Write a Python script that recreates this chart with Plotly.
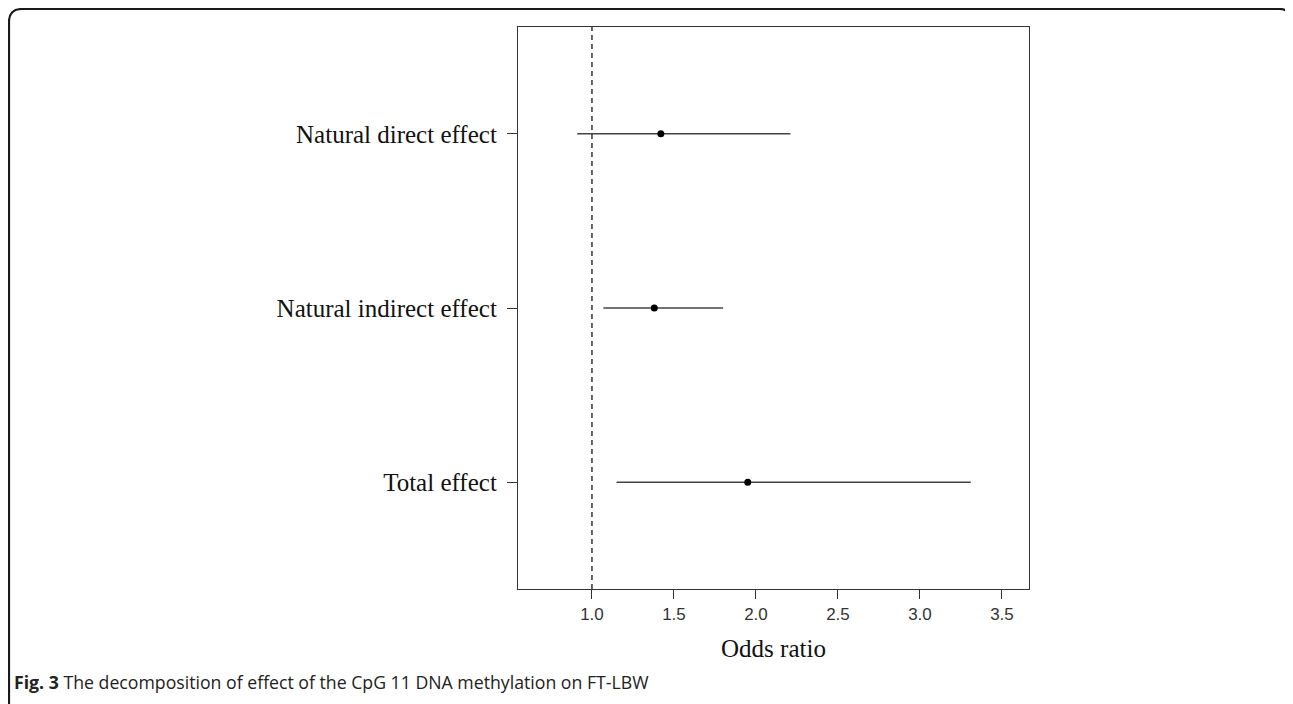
import plotly.graph_objects as go

# ---- data ----
effects = ["Total effect", "Natural indirect effect", "Natural direct effect"]
odds_ratio = [1.95, 1.38, 1.42]
ci_lower = [1.15, 1.07, 0.91]
ci_upper = [3.31, 1.80, 2.21]
x_ticks = [1.0, 1.5, 2.0, 2.5, 3.0, 3.5]
x_tick_labels = ["1.0", "1.5", "2.0", "2.5", "3.0", "3.5"]
reference_or = 1.0
caption_bold = "Fig. 3"
caption_text = " The decomposition of effect of the CpG 11 DNA methylation on FT-LBW"

OFF = 8  # browser body margin
W, H = 1293 - OFF, 704 - OFF
L, R, T, B = 518 - OFF, 1029 - OFF, 27 - OFF, 589 - OFF  # plot area pixels

def px(xp):
    return (xp - OFF - L) / (R - L)

def py(yp):
    return (B - (yp - OFF)) / (B - T)

ypos = list(range(1, len(effects) + 1))

fig = go.Figure()
fig.add_trace(go.Scatter(
    x=odds_ratio, y=ypos, mode="markers",
    marker=dict(color="black", size=7),
    error_x=dict(type="data", symmetric=False,
                 array=[u - p for u, p in zip(ci_upper, odds_ratio)],
                 arrayminus=[p - l for p, l in zip(odds_ratio, ci_lower)],
                 width=0, thickness=1.5, color="#444444"),
    showlegend=False, hoverinfo="x+y",
))

fig.add_shape(type="line", xref="x", yref="paper", x0=reference_or, x1=reference_or,
              y0=0, y1=1, line=dict(color="#333333", width=1.5, dash="5px,4px"))

# outer rounded frame
x0, y0, x1, y1 = px(9), py(9), px(1292), py(712)
rx = 13 / (R - L)
ry = 13 / (B - T)
path = (f"M {x0},{y1} L {x0},{y0 - ry} Q {x0},{y0} {x0 + rx},{y0} "
        f"L {x1 - rx},{y0} Q {x1},{y0} {x1},{y0 - ry} L {x1},{y1}")
fig.add_shape(type="path", xref="paper", yref="paper", path=path,
              line=dict(color="#1a1a1a", width=2.2))

fig.add_annotation(xref="paper", yref="paper", x=px(12), y=py(682),
                   xanchor="left", yanchor="middle", showarrow=False,
                   text=f"<b>{caption_bold}</b>{caption_text}",
                   font=dict(family="Open Sans", size=17.7, color="#222222"))

fig.update_xaxes(range=[0.549, 3.665], tickvals=x_ticks, ticktext=x_tick_labels,
                 showgrid=False, zeroline=False, showline=True, mirror=True,
                 linecolor="#333333", linewidth=1.3,
                 ticks="outside", ticklen=9, tickcolor="#333333", tickwidth=1.3,
                 tickfont=dict(family="Liberation Sans", size=17, color="#333333"),
                 title=dict(text="Odds ratio", standoff=16,
                            font=dict(family="Liberation Serif", size=25, color="#111111")))
fig.update_yaxes(range=[0.387, 3.613], tickvals=ypos, ticktext=effects,
                 showgrid=False, zeroline=False, showline=True, mirror=True,
                 linecolor="#333333", linewidth=1.3,
                 ticks="outside", ticklen=10, tickcolor="#333333", tickwidth=1.3,
                 ticklabelstandoff=5,
                 tickfont=dict(family="Liberation Serif", size=25, color="#111111"))

fig.update_layout(width=W, height=H, autosize=False,
                  margin=dict(l=L, r=W - R, t=T, b=H - B, pad=0),
                  paper_bgcolor="white", plot_bgcolor="white")

fig.write_html("out.html")
